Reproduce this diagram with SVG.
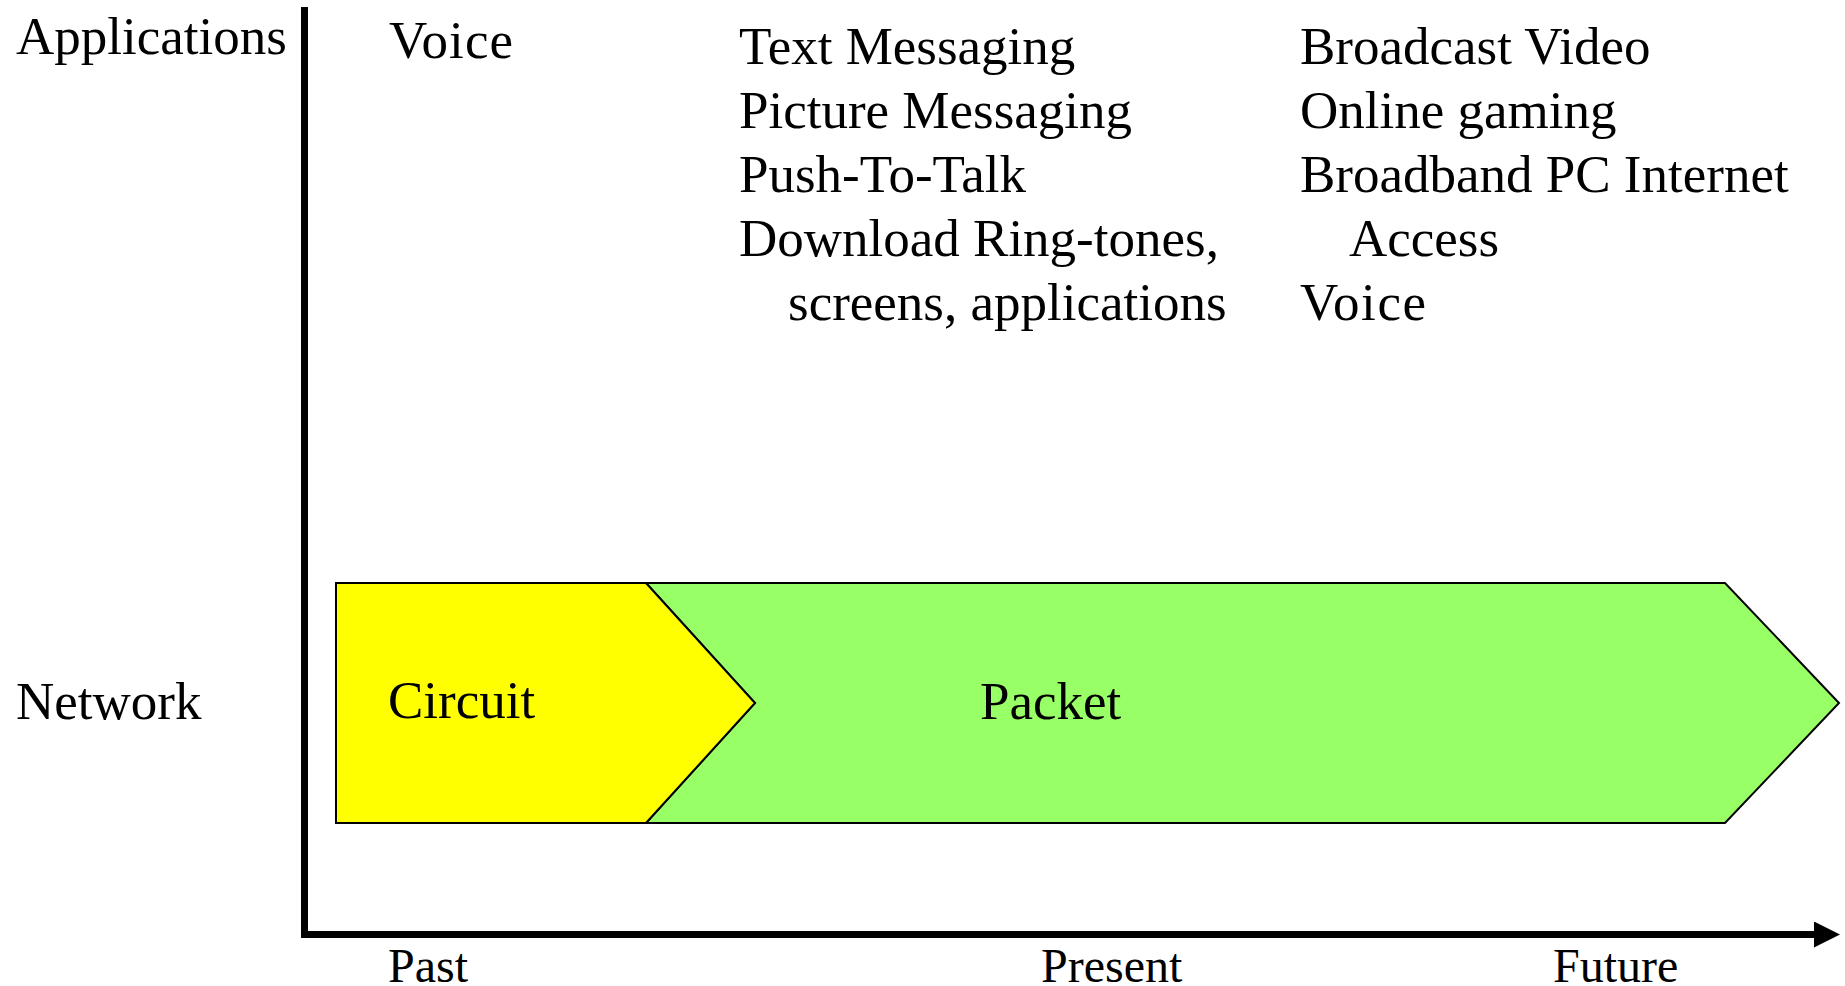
<svg xmlns="http://www.w3.org/2000/svg" width="1845" height="986" viewBox="0 0 1845 986">
  <style>
    text { font-family: "Liberation Serif", "Times New Roman", serif; font-size: 53px; fill: #000; }
    .time { font-size: 48px; }
    .axis { stroke: #000; stroke-width: 7; fill: none; }
    .shape { stroke: #000; stroke-width: 2; stroke-linejoin: miter; }
  </style>
  <defs>
    <marker id="arrow" viewBox="0 0 26 26" refX="0" refY="13" markerWidth="26" markerHeight="26" markerUnits="userSpaceOnUse" orient="auto">
      <polygon points="0,0 26,13 0,26" fill="#000"/>
    </marker>
  </defs>
  <rect width="1845" height="986" fill="#fff"/>

  <g id="connectors">
    <line class="axis" x1="304.5" y1="7" x2="304.5" y2="938"/>
    <line class="axis" x1="301" y1="934.5" x2="1814" y2="934.5" marker-end="url(#arrow)"/>
  </g>

  <g id="axis-labels">
    <text x="16" y="54">Applications</text>
    <text x="16" y="719">Network</text>
    <text class="time" x="388" y="982">Past</text>
    <text class="time" x="1041" y="982">Present</text>
    <text class="time" x="1553" y="982">Future</text>
  </g>

  <g id="packet">
    <polygon class="shape" fill="#99FF66" points="646,583 1725,583 1839,703 1725,823 646,823 755,703"/>
    <text x="980" y="719">Packet</text>
  </g>

  <g id="circuit">
    <polygon class="shape" fill="#FFFF00" points="336,583 646,583 755,703 646,823 336,823"/>
    <text x="388" y="718">Circuit</text>
  </g>

  <g id="apps-past">
    <text x="389" y="58" textLength="124">Voice</text>
  </g>

  <g id="apps-present">
    <text x="739" y="64">Text Messaging</text>
    <text x="739" y="128">Picture Messaging</text>
    <text x="739" y="192">Push-To-Talk</text>
    <text x="739" y="256">Download Ring-tones,</text>
    <text x="788" y="320">screens, applications</text>
  </g>

  <g id="apps-future">
    <text x="1300" y="64">Broadcast Video</text>
    <text x="1300" y="128">Online gaming</text>
    <text x="1300" y="192">Broadband PC Internet</text>
    <text x="1349" y="256">Access</text>
    <text x="1300" y="320" textLength="126">Voice</text>
  </g>
</svg>
